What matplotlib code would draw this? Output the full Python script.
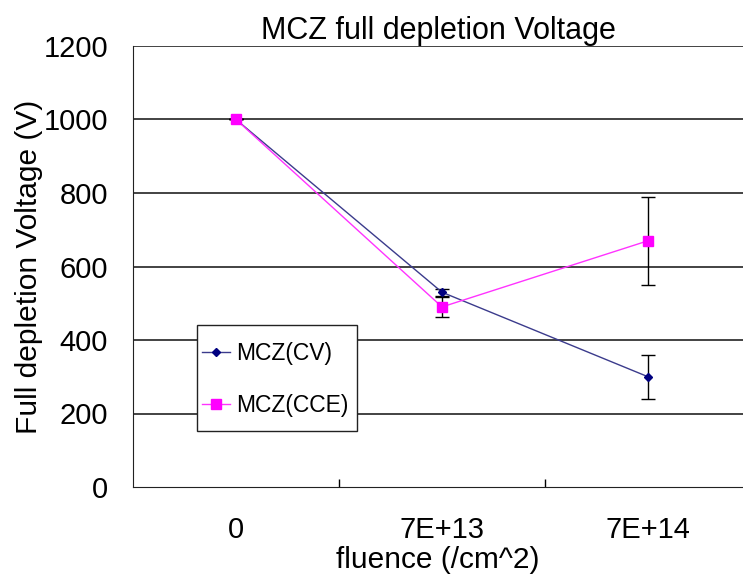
import matplotlib
matplotlib.use("Agg")
import matplotlib.pyplot as plt
from matplotlib.patches import Rectangle

categories = ["0", "7E+13", "7E+14"]
cv_values = [1000, 530, 300]
cv_errors = [0, 10, 60]
cce_values = [1000, 490, 670]
cce_errors = [0, 28, 120]
y_ticks = [0, 200, 400, 600, 800, 1000, 1200]

plt.rcParams['font.family'] = ['Liberation Sans', 'DejaVu Sans']

W, H = 743, 574
fig = plt.figure(figsize=(W / 100, H / 100), dpi=100)
ax = fig.add_axes([133 / W, 1 - 487 / H, (W - 133) / W, (487 - 46) / H])

x = list(range(len(categories)))

eb_cv = ax.errorbar(x, cv_values, yerr=cv_errors, color='#3b3b8c', lw=1.0,
                    marker='D', ms=4.5, mfc='#000080', mec='#000080',
                    ecolor='black', elinewidth=1.0, capsize=5, capthick=1.0,
                    label='MCZ(CV)', zorder=3)
eb_cce = ax.errorbar(x, cce_values, yerr=cce_errors, color='#ff33ff', lw=1.0,
                     marker='s', ms=6.5, mfc='#ff00ff', mec='#ff00ff',
                     ecolor='black', elinewidth=1.0, capsize=5, capthick=1.0,
                     label='MCZ(CCE)', zorder=4)

ax.set_ylim(0, 1200)
ax.set_xlim(-0.5, -0.5 + (W - 133) / 206)
ax.set_yticks(y_ticks)
ax.set_xticks(x)
ax.set_xticklabels(categories)
ax.set_xticks([0.5, 1.5], minor=True)
ax.tick_params(axis='x', which='major', length=0, pad=21, labelsize=21)
ax.tick_params(axis='x', which='minor', length=6, direction='in', width=1)
ax.tick_params(axis='y', length=0, pad=18, labelsize=21)

for v in y_ticks[1:]:
    ax.axhline(v, color='#222222', lw=1.2, zorder=1)

for s in ['top', 'right']:
    ax.spines[s].set_visible(False)
ax.spines['left'].set_color('#222222')
ax.spines['bottom'].set_color('#222222')

ax.set_title("MCZ full depletion Voltage", fontsize=22, pad=5)
ax.set_ylabel("Full depletion Voltage (V)", fontsize=21.5, labelpad=0)
ax.set_xlabel("fluence (/cm^2)", fontsize=21.5, labelpad=1)

# legend frame drawn as a rectangle in figure pixels
fig.patches.append(Rectangle((197 / W, 1 - 431 / H), (357 - 197) / W, (431 - 325) / H,
                             transform=fig.transFigure, facecolor='white',
                             edgecolor='#222222', lw=1.0, zorder=5))
leg = fig.legend(handles=[eb_cv[0], eb_cce[0]], labels=['MCZ(CV)', 'MCZ(CCE)'],
                 loc='center left', bbox_to_anchor=(202 / W, 1 - 379.5 / H),
                 fontsize=16.5, frameon=False,
                 borderpad=0, labelspacing=1.25, handlelength=1.2, handletextpad=0.3,
                 borderaxespad=0)
leg.set_zorder(6)

fig.savefig("out.png", dpi=100)
